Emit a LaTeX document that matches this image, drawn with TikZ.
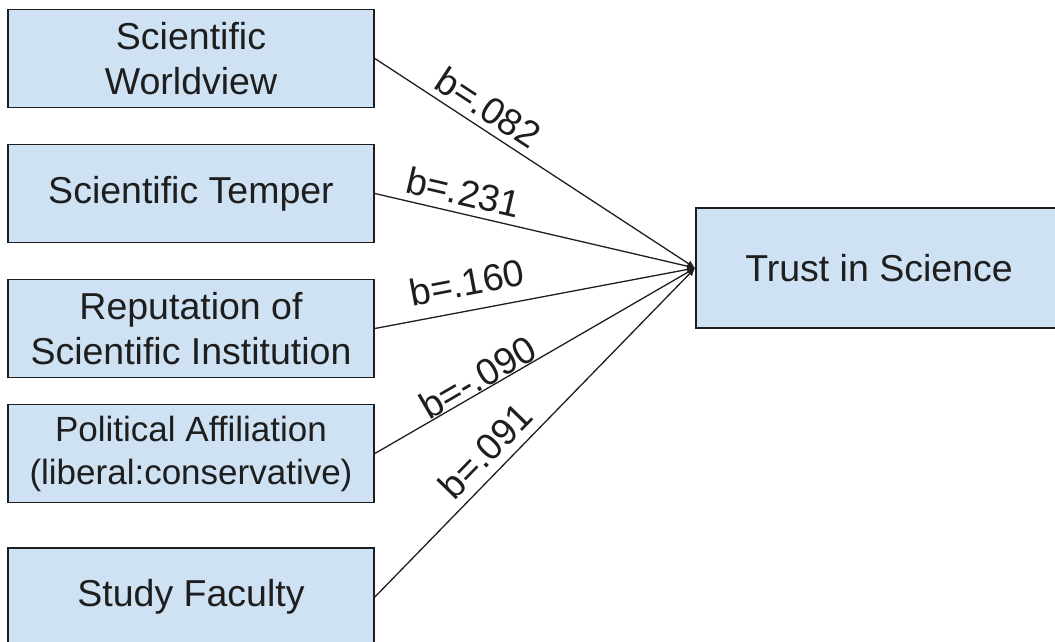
\documentclass[tikz,border=0pt]{standalone}
\usepackage{fontspec}
\setmainfont{Liberation Sans}
\usetikzlibrary{arrows.meta}
\definecolor{boxfill}{HTML}{CFE2F3}
\definecolor{ink}{HTML}{1E1E1E}
\begin{document}
\begin{tikzpicture}[x=1pt,y=-1pt,
  box/.style={draw=ink, line width=1.7pt, fill=boxfill, minimum width=366pt,
    minimum height=98pt, inner sep=0pt, align=center,
    font=\fontsize{37.5}{45}\selectfont, text=ink},
  link/.style={draw=ink, line width=1.3pt, -{Latex[length=8pt,width=7pt]}},
  lbl/.style={sloped, inner sep=0pt, font=\fontsize{37.5}{42}\selectfont, text=ink}]
\useasboundingbox (0,0) rectangle (1055,642);
\node[box] (sw) at (191,58.5) {Scientific\\Worldview};
\node[box] (st) at (191,193.5) {Scientific Temper};
\node[box] (rs) at (191,328.5) {Reputation of\\Scientific Institution};
\node[box, font=\fontsize{35}{43}\selectfont] (pa) at (191,453.5) {Political Affiliation\\(liberal:conservative)};
\node[box] (sf) at (191,597) {Study Faculty};
\node[box, minimum height=120pt] (tis) at (879,268) {Trust in Science};
\draw[link] (sw.east) -- node[lbl, pos=0.319, above=6.9pt] {b=.082} (tis.west);
\draw[link] (st.east) -- node[lbl, pos=0.262, above=7.1pt] {b=.231} (tis.west);
\draw[link] (rs.east) -- node[lbl, pos=0.304, above=13.7pt] {b=.160} (tis.west);
\draw[link] (pa.east) -- node[lbl, pos=0.344, above=0pt] {b=-.090} (tis.west);
\draw[link] (sf.east) -- node[lbl, pos=0.397, above=8.6pt] {b=.091} (tis.west);
\end{tikzpicture}
\end{document}
